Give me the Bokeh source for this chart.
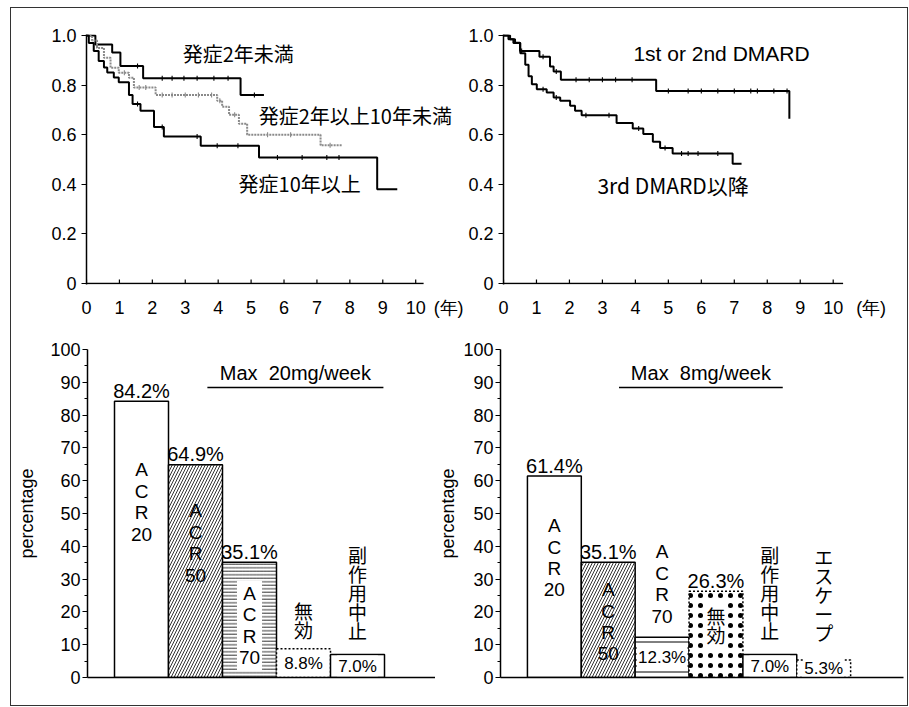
import math
from bokeh.plotting import figure
from bokeh.models import ColumnDataSource, FixedTicker, Range1d
from bokeh.layouts import column, row
from bokeh.embed import file_html
from bokeh.resources import INLINE
from bokeh.core.properties import value

# ---------------- data ----------------
year_ticks = list(range(0, 11))
year_unit = "(年)"
surv_ticks = [0, 0.2, 0.4, 0.6, 0.8, 1.0]
surv_tick_labels = ["0", "0.2", "0.4", "0.6", "0.8", "1.0"]
pct_ticks = list(range(0, 101, 10))
pct_minor = list(range(5, 100, 10))

# top-left: disease duration groups (Kaplan-Meier, years vs retention)
lt2_name = "発症2年未満"
lt2_t = [0, 0.27, 0.78, 1.03, 1.72, 4.68, 5.39]
lt2_s = [1.0, 0.964, 0.931, 0.877, 0.828, 0.76, 0.76]
lt2_cens = [1.55, 2.3, 2.6, 2.96, 3.36, 3.87, 4.3, 5.1]

mid_name = "発症2年以上10年未満"
mid_t = [0, 0.17, 0.32, 0.53, 0.73, 0.98, 1.29, 1.44, 2.10, 3.97, 4.12, 4.33, 4.63, 4.88, 7.11, 7.77]
mid_s = [1.0, 0.98, 0.95, 0.91, 0.87, 0.85, 0.83, 0.79, 0.76, 0.737, 0.713, 0.68, 0.644, 0.60, 0.557, 0.557]
mid_cens = [1.15, 1.6, 1.8, 2.3, 2.6, 3.0, 3.4, 3.8, 4.05, 4.5, 5.5, 6.2, 7.4]

ge10_name = "発症10年以上"
ge10_t = [0, 0.07, 0.22, 0.37, 0.53, 0.63, 0.83, 0.98, 1.29, 1.40, 1.64, 2.05, 2.35, 3.47, 5.24, 8.83, 9.44]
ge10_s = [1.0, 0.97, 0.937, 0.897, 0.871, 0.851, 0.831, 0.811, 0.76, 0.724, 0.697, 0.631, 0.593, 0.555, 0.508, 0.38, 0.38]
ge10_cens = [1.55, 2.3, 3.36, 3.97, 4.6, 5.8, 6.55, 7.3, 7.67]

# top-right: DMARD line
early_name = "1st or 2nd DMARD"
early_t = [0, 0.2, 0.35, 0.5, 1.09, 1.41, 1.52, 1.74, 4.63, 8.67]
early_s = [1.0, 0.985, 0.971, 0.937, 0.914, 0.875, 0.855, 0.822, 0.776, 0.664]
early_cens = [0.55, 1.2, 1.6, 2.2, 2.6, 3.0, 3.4, 3.9, 5.0, 5.6, 6.0, 6.5, 7.0, 7.5, 7.7, 8.2, 8.6]

late_name = "3rd DMARD以降"
late_t = [0, 0.15, 0.3, 0.51, 0.66, 0.76, 0.86, 1.01, 1.31, 1.52, 1.72, 2.02, 2.17, 2.37,
          3.43, 3.92, 4.24, 4.53, 4.75, 5.13, 6.95, 7.22]
late_s = [1.0, 0.985, 0.97, 0.928, 0.882, 0.836, 0.803, 0.783, 0.77, 0.75, 0.737, 0.717, 0.697, 0.678,
          0.647, 0.625, 0.603, 0.572, 0.546, 0.524, 0.483, 0.483]
late_cens = [1.2, 1.6, 2.5, 3.2, 4.1, 4.9, 5.4, 5.6, 5.9, 6.5]

# bottom-left: Max 20mg/week
left_title = "Max\u00a0\u00a020mg/week"
left_cats = ["A\nC\nR\n20", "A\nC\nR\n50", "A\nC\nR\n70", "無\n効", "副\n作\n用\n中\n止"]
left_vals = [84.2, 64.9, 35.1, 8.8, 7.0]

# bottom-right: Max 8mg/week
right_title = "Max\u00a0\u00a08mg/week"
right_cats = ["A\nC\nR\n20", "A\nC\nR\n50", "A\nC\nR\n70", "無\n効", "副\n作\n用\n中\n止", "エ\nス\nケ\nー\nプ"]
right_vals = [61.4, 35.1, 12.3, 26.3, 7.0, 5.3]

# ---------------- styles / layout ----------------
LAT = "Liberation Sans"
JP = "Noto Sans CJK JP"
FS = "18px"

left_styles = ["plain", "diag", "hline", "dotted", "plain"]
right_styles = ["plain", "diag", "hline_sparse", "dots", "plain", "dotted"]
left_pct_pos = ["above", "above", "above", "inside", "inside"]
right_pct_pos = ["above", "above", "inside", "above", "inside", "inside"]
left_name_top = [66.5, 54, 29.5, 24.5, 41.5]
right_name_top = [49.5, 30, 41.5, 23.5, 41.5, 41.0]
left_name_bg = [None, None, "white", None, None]
right_name_bg = [None, None, None, "white", None, None]

STYLE = {
    "plain": dict(hatch_pattern=None, hatch_scale=6, hatch_weight=1, line_dash="solid"),
    "diag": dict(hatch_pattern="right_diagonal_line", hatch_scale=6, hatch_weight=0.8, line_dash="solid"),
    "hline": dict(hatch_pattern="horizontal_line", hatch_scale=3.5, hatch_weight=0.8, line_dash="solid"),
    "hline_sparse": dict(hatch_pattern="horizontal_line", hatch_scale=6, hatch_weight=1, line_dash="solid"),
    "dots": dict(hatch_pattern="dot", hatch_scale=10, hatch_weight=0.6, line_dash="2 2"),
    "dotted": dict(hatch_pattern=None, hatch_scale=6, hatch_weight=1, line_dash="2 2"),
}


def surv_at(t, s, x):
    y = s[0]
    for ti, si in zip(t, s):
        if ti <= x:
            y = si
    return y


def style_axes(p):
    p.xgrid.visible = False
    p.ygrid.visible = False
    p.outline_line_color = None
    p.background_fill_color = "white"
    p.border_fill_color = "white"
    for ax in (p.xaxis[0], p.yaxis[0]):
        ax.axis_line_width = 1.5
        ax.axis_line_color = "black"
        ax.major_tick_line_color = "black"
        ax.major_tick_line_width = 1.2
        ax.minor_tick_line_color = "black"
        ax.major_label_text_font = LAT
        ax.major_label_text_font_size = FS
        ax.major_label_text_color = "black"


def km_fig(width, bl, br, axis_end, unit_x, xmax, curves, labels):
    p = figure(width=width, height=312, x_range=Range1d(0, xmax), y_range=Range1d(-0.004, 1.004),
               output_backend="svg", toolbar_location=None,
               min_border_left=bl, min_border_right=br, min_border_top=26, min_border_bottom=36)
    style_axes(p)
    # x axis: labels from the axis, line and inward ticks drawn as glyphs so that
    # the axis ends at the last year and "(年)" sits beside it
    p.xaxis.ticker = FixedTicker(ticks=year_ticks + [unit_x])
    p.xaxis.major_label_overrides = {unit_x: year_unit}
    p.xaxis.axis_line_color = None
    p.xaxis.major_tick_line_color = None
    p.xaxis.minor_tick_line_color = None
    p.xaxis.major_label_standoff = 7
    p.segment(x0=[0], y0=[0], x1=[axis_end], y1=[0], line_color="black", line_width=1.5)
    p.segment(x0=year_ticks, y0=[0] * len(year_ticks), x1=year_ticks, y1=[0.016] * len(year_ticks),
              line_color="black", line_width=1.2)
    p.yaxis.ticker = FixedTicker(ticks=surv_ticks)
    p.yaxis.major_label_overrides = {float(t): s for t, s in zip(surv_ticks, surv_tick_labels)}
    p.yaxis.major_tick_in = 0
    p.yaxis.major_tick_out = 5
    p.yaxis.minor_tick_line_color = None
    p.yaxis.major_label_standoff = 5
    for t, s, cens, color, dash in curves:
        p.step(x=t, y=s, mode="after", line_color=color, line_width=2, line_dash=dash)
        p.scatter(x=cens, y=[surv_at(t, s, c) for c in cens], marker="dash", angle=math.pi / 2,
                  size=5, line_color=color, line_width=1.1)
    for txt, x, y in labels:
        if all(ord(c) > 127 or c.isdigit() for c in txt):
            font, size = JP, "20px"
        else:
            font, size = (JP if any(ord(c) > 127 for c in txt) else LAT), "21px"
        p.text(x=[x], y=[y], text=[txt], text_font=value(font), text_font_size=size,
               text_align="left", text_baseline="middle", text_color="black")
    return p


def bar_fig(width, bl, br, xmax, cats, vals, styles, pct_pos, name_top, name_bg, title, tx0, tx1,
            label_standoff):
    p = figure(width=width, height=385, x_range=Range1d(0, xmax), y_range=Range1d(0, 100),
               output_backend="svg", toolbar_location=None,
               min_border_left=bl, min_border_right=br, min_border_top=29, min_border_bottom=28)
    style_axes(p)
    p.xaxis.ticker = FixedTicker(ticks=[])
    p.xaxis.major_tick_line_color = None
    p.xaxis.minor_tick_line_color = None
    p.yaxis.ticker = FixedTicker(ticks=pct_ticks, minor_ticks=pct_minor)
    p.yaxis.major_tick_in = 0
    p.yaxis.major_tick_out = 5
    p.yaxis.minor_tick_in = 0
    p.yaxis.minor_tick_out = 3
    p.yaxis.major_label_standoff = 2
    p.yaxis.axis_label = "percentage"
    p.yaxis.axis_label_text_font = LAT
    p.yaxis.axis_label_text_font_size = FS
    p.yaxis.axis_label_text_font_style = "normal"
    p.yaxis.axis_label_text_color = "black"
    p.yaxis.axis_label_standoff = label_standoff
    for i, (v, st) in enumerate(zip(vals, styles)):
        sty = STYLE[st]
        src = ColumnDataSource(dict(x=[i + 1], top=[v]))
        kw = {}
        if sty["hatch_pattern"]:
            kw = dict(hatch_pattern=sty["hatch_pattern"], hatch_scale=sty["hatch_scale"],
                      hatch_color="black", hatch_weight=sty["hatch_weight"])
        p.vbar(x="x", top="top", width=1.0, bottom=0, source=src, fill_color="white",
               line_color="black", line_width=1.5, line_dash=sty["line_dash"], **kw)
    for i, (v, pos) in enumerate(zip(vals, pct_pos)):
        txt = f"{v}%"
        if pos == "above":
            p.text(x=[i + 1], y=[v + 3.2], text=[txt], text_font=value(LAT), text_font_size="20px",
                   text_align="center", text_baseline="alphabetic", text_color="black")
        else:
            p.text(x=[i + 1], y=[v / 2], text=[txt], text_font=value(LAT), text_font_size="17px",
                   text_align="center", text_baseline="middle", text_color="black",
                   background_fill_color="white", padding=1)
    for i, (nm, ty, bg) in enumerate(zip(cats, name_top, name_bg)):
        jp = any(ord(c) > 127 for c in nm)
        font = JP if jp else LAT
        lh = 0.70 if jp else 1.02
        kw = dict(background_fill_color=bg, padding=2) if bg else {}
        p.text(x=[i + 1], y=[ty], text=[nm], text_font=value(font), text_font_size="19px",
               text_align="center", text_baseline="top", text_color="black",
               text_line_height=lh, **kw)
    p.line(x=[tx0, tx1], y=[88.4, 88.4], line_color="black", line_width=1.5)
    p.text(x=[(tx0 + tx1) / 2], y=[92.8], text=[title], text_font=value(LAT), text_font_size="20px",
           text_align="center", text_baseline="middle", text_color="black")
    return p


tl = km_fig(454, 75, 7, 10.24, 11.0, 11.3,
            [(lt2_t, lt2_s, lt2_cens, "black", "solid"),
             (mid_t, mid_s, mid_cens, "#8a8a8a", "2 1"),
             (ge10_t, ge10_s, ge10_cens, "black", "solid")],
            [(lt2_name, 2.92, 0.928), (mid_name, 5.23, 0.676), (ge10_name, 4.62, 0.404)])
tr = km_fig(442, 38, 10, 10.3, 11.15, 11.95,
            [(early_t, early_s, early_cens, "black", "solid"),
             (late_t, late_s, late_cens, "black", "solid")],
            [(early_name, 3.94, 0.928), (late_name, 2.85, 0.396)])

bl = bar_fig(424, 76, 0, 348 / 54, left_cats, left_vals, left_styles, left_pct_pos,
             left_name_top, left_name_bg, left_title, 2.22, 5.48, 10)
br = bar_fig(472, 64, 4, 404 / 54, right_cats, right_vals, right_styles, right_pct_pos,
             right_name_top, right_name_bg, right_title, 2.2, 5.24, 2)

layout = column(row(tl, tr), row(bl, br), margin=(7, 0, 0, 10),
                styles={"border": "1px solid #333"})
open("out.html", "w").write(file_html(layout, INLINE))
